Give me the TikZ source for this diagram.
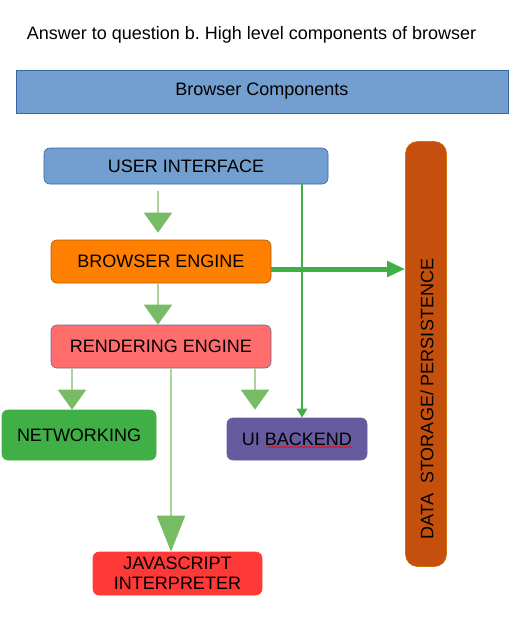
\documentclass[tikz,border=0pt]{standalone}
\usepackage{fontspec}
\setmainfont{Liberation Sans}
\usetikzlibrary{arrows.meta}
\usetikzlibrary{decorations.pathmorphing}
\frenchspacing

\definecolor{barblue}{RGB}{114,159,207}
\definecolor{edgeblue}{RGB}{52,101,164}
\definecolor{engorange}{RGB}{255,128,0}
\definecolor{rendred}{RGB}{255,109,109}
\definecolor{netgreen}{RGB}{63,175,70}
\definecolor{backpurple}{RGB}{102,91,158}
\definecolor{jsred}{RGB}{255,56,56}
\definecolor{storebrown}{RGB}{197,80,14}
\definecolor{paleline}{RGB}{170,212,152}
\definecolor{palehead}{RGB}{119,188,101}

\begin{document}
\begin{tikzpicture}[x=1pt,y=-1pt,
  every node/.style={font=\fontsize{18}{20}\selectfont, text=black},
  box/.style={rounded corners=6pt, inner sep=0pt, align=center, line width=0.6pt},
  flow/.style={draw=paleline, line width=2pt, -{Triangle[length=#1,width=28pt,color=palehead]}},
  flow/.default=20pt,
  bigflow/.style={draw=netgreen, line width=5pt, -{Triangle[length=18pt,width=15pt]}},
  smallflow/.style={draw=netgreen, line width=2.5pt, -{Triangle[length=9pt,width=10pt]}}]
\useasboundingbox (0,0) rectangle (527,638);
\node (title) at (251.5,35) {Answer to question b. High level components of browser};
\node[box, rounded corners=0pt, fill=barblue, draw=edgeblue, minimum width=492pt, minimum height=43pt] (bar) at (262,91.5) {Browser Components};
\node[box, fill=barblue, draw=edgeblue, minimum width=284pt, minimum height=36pt] (ui) at (186,166) {USER INTERFACE};
\node[box, fill=engorange, draw=engorange!70!black, minimum width=220pt, minimum height=43pt] (be) at (161,261.5) {BROWSER ENGINE};
\node[box, fill=rendred, draw=edgeblue!70!rendred, minimum width=220pt, minimum height=43pt] (re) at (161,346.5) {RENDERING ENGINE};
\node[box, fill=netgreen, draw=netgreen, minimum width=154pt, minimum height=50pt] (net) at (79,435) {NETWORKING};
\node[box, fill=backpurple, draw=backpurple, minimum width=140pt, minimum height=42pt] (uib) at (297,439) {UI BACKEND};
\node[box, fill=jsred, draw=jsred!80!orange, minimum width=169pt, minimum height=43pt] (js) at (177.5,573.5) {JAVASCRIPT\\INTERPRETER};
\node[box, rounded corners=12pt, fill=storebrown, draw=storebrown!80!yellow, minimum width=41pt, minimum height=425pt] (ds) at (426,354) {};
\node[rotate=90] (dslabel) at (427,399) {DATA\ \ STORAGE/ PERSISTENCE};
% connectors
\draw[flow, shorten <=7pt, shorten >=7pt] ([xshift=-3pt]ui.south -| be.north) -- ([xshift=-3pt]be.north);
\draw[flow] ([xshift=-3pt]be.south) -- ([xshift=-3pt]re.north);
\draw[flow] ([xshift=-7pt]re.south -| net.north) -- ([xshift=-7pt]net.north);
\draw[flow=36pt] ([xshift=10pt]re.south) -- ([xshift=10pt]re.south |- js.north);
\draw[flow, shorten >=8pt] ([xshift=-42pt]re.south -| uib.north) -- ([xshift=-42pt]uib.north);
\draw[smallflow] ([xshift=5pt]ui.south -| uib.north) -- ([xshift=5pt]uib.north);
\draw[bigflow] ([yshift=-7.5pt]be.east) -- ([yshift=-7.5pt]be.east -| ds.west);
\draw[red, line width=0.5pt, decorate, decoration={snake, amplitude=0.8pt, segment length=3pt}]
  ([xshift=-29pt,yshift=-8pt]uib.center) -- ([xshift=56pt,yshift=-8pt]uib.center);
\end{tikzpicture}
\end{document}
